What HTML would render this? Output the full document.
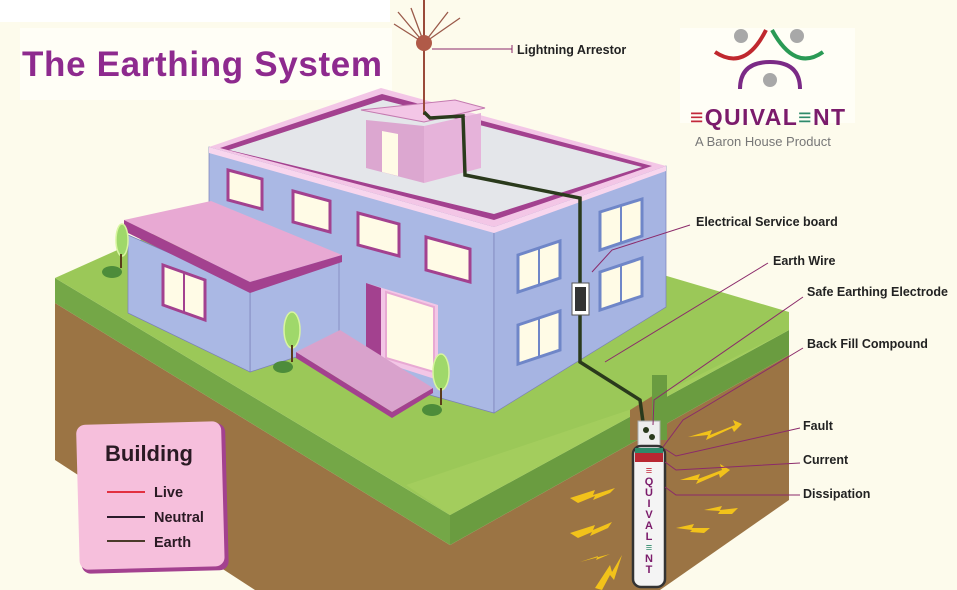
<!DOCTYPE html>
<html><head><meta charset="utf-8"><style>
html,body{margin:0;padding:0;background:#fdfbec;}
svg{display:block}
text{font-family:"Liberation Sans",sans-serif;}
</style></head><body>
<svg width="957" height="590" viewBox="0 0 957 590" xmlns="http://www.w3.org/2000/svg">
<rect width="957" height="590" fill="#fdfbec"/>
<rect x="20" y="28" width="372" height="72" fill="#fffef6"/>
<rect x="680" y="28" width="175" height="95" fill="#fffef6"/>
<rect x="0" y="0" width="390" height="22" fill="#ffffff"/>

<!-- ground -->
<polygon points="55,303 450,545 450,590 255,590 55,460" fill="#9b7444"/>
<polygon points="450,545 789,355 789,500 660,590 450,590" fill="#9b7444"/>
<polygon points="55,278 450,515 450,545 55,303" fill="#74a747"/>
<polygon points="450,515 789,330 789,355 450,545" fill="#6a9c40"/>
<polygon points="55,278 300,168 789,312 789,330 450,515" fill="#9bc858"/>
<polygon points="406,485 629,410 789,330 450,515" fill="#a8d060" opacity="0.6"/>
<!-- trench -->
<polygon points="630,410 630,440 667,440 667,387" fill="#9b7444"/>
<polygon points="652,375 667,375 667,440 652,440" fill="#6a9c40"/>

<!-- main block walls -->
<polygon points="209,147 494,227 494,413 209,333" fill="#aab8e4" stroke="#7a7fb8" stroke-width="0.7"/>
<polygon points="494,227 666,166 666,307 494,413" fill="#a6b4e2" stroke="#7a7fb8" stroke-width="0.7"/>
<polygon points="250,288 339,262 339,343 250,372" fill="#aab8e4" stroke="#7a7fb8" stroke-width="0.7"/>
<polygon points="128,235 250,288 250,372 128,313" fill="#aab8e4" stroke="#7a7fb8" stroke-width="0.7"/>
<!-- roof -->
<polygon points="209,147 381,88 666,166 494,227" fill="#f3c6e6"/>
<polygon points="220,148 382,94 652,166 494,220" fill="#a3418f"/>
<polygon points="229,150 383,100 642,167 494,214" fill="#e4e6ea"/>
<polygon points="209,147 494,227 494,233 209,153" fill="#f8d6ee"/>
<polygon points="494,227 666,166 666,171 494,233" fill="#f8d6ee"/>
<!-- annex roof -->
<polygon points="124,220 211,201 342,255 250,282" fill="#e8a9d3"/>
<polygon points="124,220 250,282 250,293 124,231" fill="#a3418f"/>
<polygon points="250,282 342,255 342,262 250,293" fill="#a3418f"/>
<!-- front windows -->
<g fill="#fffbe6" stroke="#a3418f" stroke-width="3">
<polygon points="228,170 262,179 262,209 228,200"/>
<polygon points="293,191 330,201 330,232 293,222"/>
<polygon points="358,213 399,224 399,256 358,245"/>
<polygon points="426,237 470,249 470,282 426,270"/>
<polygon points="163,265 205,280 205,320 163,305"/>
</g>
<line x1="184" y1="272" x2="184" y2="312" stroke="#a3418f" stroke-width="2"/>
<!-- right windows -->
<g fill="#fffbe6" stroke="#6f86c8" stroke-width="3">
<polygon points="518,255 560,241 560,278 518,292"/>
<polygon points="600,212 642,199 642,236 600,250"/>
<polygon points="518,325 560,311 560,350 518,364"/>
<polygon points="600,272 642,258 642,296 600,310"/>
</g>
<g stroke="#6f86c8" stroke-width="2">
<line x1="539" y1="248" x2="539" y2="285"/><line x1="621" y1="205" x2="621" y2="243"/>
<line x1="539" y1="318" x2="539" y2="357"/><line x1="621" y1="265" x2="621" y2="303"/>
</g>
<!-- door -->
<polygon points="366,283 438,305 438,380 366,357" fill="#f3c6e6"/>
<polygon points="366,283 381,288 381,362 366,357" fill="#a3418f"/>
<polygon points="386,292 434,307 434,372 386,358" fill="#fffbe6" stroke="#e8a9d3" stroke-width="2"/>
<!-- porch -->
<polygon points="296,352 340,330 433,388 392,412" fill="#d9a2cc"/>
<polygon points="296,352 392,412 392,418 296,358" fill="#a3418f"/>
<polygon points="392,412 433,388 433,393 392,418" fill="#a3418f"/>
<!-- penthouse -->
<polygon points="361,110 455,100 485,108 424,122" fill="#f3c6e6" stroke="#c47ab0" stroke-width="1"/>
<polygon points="366,120 424,126 424,183 366,168" fill="#dca7d0"/>
<polygon points="424,126 481,113 481,168 424,183" fill="#e6b3da"/>
<polygon points="382,131 398,134 398,176 382,172" fill="#fffbe6"/>
<!-- trees -->
<g>
<ellipse cx="292" cy="330" rx="8" ry="18" fill="#9fd86a" stroke="#d8f5a0" stroke-width="1.5"/>
<line x1="292" y1="345" x2="292" y2="362" stroke="#5a3b1a" stroke-width="2"/>
<ellipse cx="283" cy="367" rx="10" ry="6" fill="#4d8c3a"/>
<ellipse cx="441" cy="372" rx="8" ry="18" fill="#9fd86a" stroke="#d8f5a0" stroke-width="1.5"/>
<line x1="441" y1="388" x2="441" y2="405" stroke="#5a3b1a" stroke-width="2"/>
<ellipse cx="432" cy="410" rx="10" ry="6" fill="#4d8c3a"/>
<ellipse cx="122" cy="240" rx="6" ry="16" fill="#9fd86a" stroke="#d8f5a0" stroke-width="1.5"/>
<line x1="121" y1="254" x2="121" y2="268" stroke="#5a3b1a" stroke-width="2"/>
<ellipse cx="112" cy="272" rx="10" ry="6" fill="#4d8c3a"/>
</g>
<!-- arrestor -->
<line x1="424" y1="0" x2="424" y2="115" stroke="#9a4a3a" stroke-width="2"/>
<g stroke="#9a5a4a" stroke-width="1.3">
<line x1="424" y1="43" x2="398" y2="12"/><line x1="424" y1="43" x2="394" y2="24"/>
<line x1="424" y1="43" x2="411" y2="8"/><line x1="424" y1="43" x2="448" y2="12"/>
<line x1="424" y1="43" x2="460" y2="18"/>
</g>
<circle cx="424" cy="43" r="8" fill="#b05a48"/>
<!-- earth wire -->
<polyline points="424,112 430,118 463,116 465,175 580,198 580,362 640,400 643,422" fill="none" stroke="#2a3a1c" stroke-width="3.5"/>
<rect x="572" y="283" width="17" height="32" fill="#fff" stroke="#555" stroke-width="1"/>
<rect x="575" y="287" width="11" height="24" fill="#333"/>
<!-- electrode -->
<rect x="638" y="421" width="22" height="28" fill="#eee" stroke="#aaa"/>
<circle cx="646" cy="430" r="3" fill="#2a3a1c"/><circle cx="652" cy="437" r="3" fill="#2a3a1c"/>
<rect x="633" y="446" width="32" height="141" rx="8" fill="#f4f4f4" stroke="#333" stroke-width="2.5"/>
<rect x="635" y="448" width="28" height="5" fill="#2e8a6a"/>
<rect x="635" y="453" width="28" height="9" fill="#b82832"/>
<g font-size="11" font-weight="bold" fill="#7b1b6b" text-anchor="middle">
<text x="649" y="474" fill="#c2283a">≡</text><text x="649" y="485">Q</text><text x="649" y="496">U</text>
<text x="649" y="507">I</text><text x="649" y="518">V</text><text x="649" y="529">A</text>
<text x="649" y="540">L</text><text x="649" y="551" fill="#2e8a6a">≡</text><text x="649" y="562">N</text><text x="649" y="573">T</text>
</g>
<!-- sparks -->
<g fill="#f2c21a">
<polygon points="688,437 712,430 710,435 735,425 733,420 742,424 734,432 732,428 706,440 708,435"/>
<polygon points="680,480 700,474 698,479 722,470 720,464 730,470 720,478 719,474 696,484 698,480"/>
<polygon points="570,498 595,490 593,495 615,488 610,493 593,500 595,496 578,503"/>
<polygon points="570,533 595,525 593,530 612,522 608,528 590,536 592,532 578,538"/>
<polygon points="580,562 598,556 596,560 610,554"/>
<polygon points="704,510 722,506 720,510 738,508 732,514 718,514 720,511"/>
<polygon points="676,528 694,524 692,528 710,528 704,533 690,532 692,530"/>
<polygon points="595,588 610,565 612,572 622,555 614,580 610,575 602,590"/>
</g>
<!-- leader lines -->
<g stroke="#8b2a6a" stroke-width="1" fill="none">
<line x1="432" y1="49" x2="512" y2="49"/><line x1="512" y1="45" x2="512" y2="53"/>
<polyline points="592,272 612,250 690,225"/>
<line x1="605" y1="362" x2="768" y2="263"/>
<polyline points="653,425 654,400 803,297"/>
<polyline points="663,447 683,420 700,410 803,348"/>
<polyline points="665,449 676,456 800,428"/>
<polyline points="665,462 676,470 800,463"/>
<polyline points="665,487 676,495 800,495"/>
</g>
<!-- labels -->
<g font-size="12.5" font-weight="bold" fill="#222">
<text x="517" y="54">Lightning Arrestor</text>
<text x="696" y="226">Electrical Service board</text>
<text x="773" y="265">Earth Wire</text>
<text x="807" y="296">Safe Earthing Electrode</text>
<text x="807" y="348">Back Fill Compound</text>
<text x="803" y="430">Fault</text>
<text x="803" y="464">Current</text>
<text x="803" y="498">Dissipation</text>
</g>
<!-- title -->
<text x="22" y="76" font-size="35" font-weight="bold" fill="#8e2a8e" textLength="360">The Earthing System</text>
<!-- logo -->
<g fill="#a8a8a8"><circle cx="741" cy="36" r="7"/><circle cx="797" cy="36" r="7"/><circle cx="770" cy="80" r="7"/></g>
<path d="M715,52 Q745,72 766,30" fill="none" stroke="#c0282e" stroke-width="4"/>
<path d="M772,30 Q795,72 823,52" fill="none" stroke="#2a9a55" stroke-width="4"/>
<path d="M740,89 Q740,62 770,62 Q800,62 800,89" fill="none" stroke="#7b2a86" stroke-width="4"/>
<text x="690" y="125" font-size="23" font-weight="bold" fill="#7b1b6b" textLength="155"><tspan fill="#c2283a">≡</tspan>QUIVAL<tspan fill="#2e8a6a">≡</tspan>NT</text>
<text x="695" y="146" font-size="13" fill="#777">A Baron House Product</text>
<!-- legend -->
<g transform="rotate(-1.5 152 500)">
<rect x="80" y="425" width="147" height="147" rx="9" fill="#a3418f"/>
<rect x="78" y="423" width="145" height="145" rx="9" fill="#f6bfdc"/>
</g>
<text x="105" y="461" font-size="22" font-weight="bold" fill="#2a1a24">Building</text>
<line x1="107" y1="492" x2="145" y2="492" stroke="#e23040" stroke-width="2"/>
<line x1="107" y1="517" x2="145" y2="517" stroke="#2a1a2a" stroke-width="2"/>
<line x1="107" y1="541" x2="145" y2="541" stroke="#4a3a2a" stroke-width="2"/>
<g font-size="14.5" font-weight="bold" fill="#2a1a24">
<text x="154" y="497">Live</text><text x="154" y="522">Neutral</text><text x="154" y="547">Earth</text>
</g>
</svg>
</body></html>
